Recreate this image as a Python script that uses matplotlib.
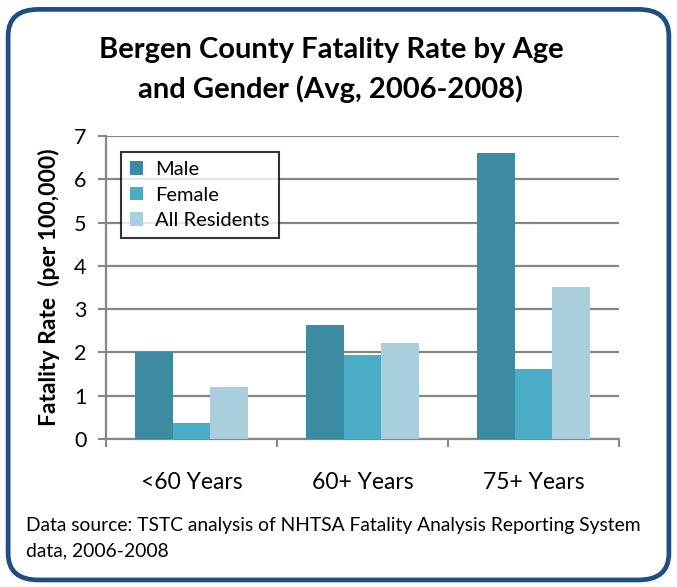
import matplotlib.pyplot as plt
import numpy as np
from matplotlib.patches import FancyBboxPatch

# data
categories = ['<60 Years', '60+ Years', '75+ Years']
male = [2.0, 2.63, 6.6]
female = [0.36, 1.94, 1.62]
all_residents = [1.2, 2.22, 3.51]
series_names = ['Male', 'Female', 'All Residents']
colors = ['#3d8ba3', '#4bacc6', '#a9cedc']

plt.rcParams['font.family'] = ['Lato', 'DejaVu Sans']

fig = plt.figure(figsize=(6.77, 5.87), dpi=100)

# rounded border round the whole chart
border = FancyBboxPatch((0.012, 0.012), 0.976, 0.972,
                        boxstyle='round,pad=0,rounding_size=0.045',
                        transform=fig.transFigure, fill=False,
                        edgecolor='#1f4e82', linewidth=3.4)
fig.patches.append(border)

# plot area in pixels: x 106..619, y 136..439
W, H = 677, 587
ax = fig.add_axes([106 / W, 1 - 439 / H, (619 - 106) / W, (439 - 136) / H])

x = np.arange(len(categories))
bw = 0.222
for i, (vals, name) in enumerate(zip([male, female, all_residents], series_names)):
    ax.bar(x + (i - 1) * bw, vals, width=bw, color=colors[i], label=name, zorder=3)

ax.set_xlim(-0.5, 2.5)
ax.set_ylim(0, 7)
ax.set_yticks(range(8))
ax.yaxis.grid(True, color='#868686', linewidth=1.6, zorder=0)
ax.set_axisbelow(True)

# category boundaries get the x tick marks
ax.set_xticks([-0.5, 0.5, 1.5, 2.5])
ax.set_xticklabels([])
ax.tick_params(axis='x', length=6, width=1.5, color='#868686')
ax.tick_params(axis='y', length=6, width=1.5, color='#868686', labelsize=15.5, pad=8)
for cx, lab in zip(x, categories):
    ax.text(cx, -1.0, lab, ha='center', va='center', fontsize=16.5,
            transform=ax.transData)

for s in ['top', 'right']:
    ax.spines[s].set_visible(False)
for s in ['left', 'bottom']:
    ax.spines[s].set_color('#868686')
    ax.spines[s].set_linewidth(1.6)

ax.set_ylabel('Fatality Rate  (per 100,000)', fontsize=16.5, fontweight='bold', labelpad=10)

leg = ax.legend(loc='upper left', bbox_to_anchor=(0.029, 0.947), borderaxespad=0,
                fontsize=14.5, frameon=True, fancybox=False,
                handlelength=0.65, handleheight=0.65, handletextpad=0.6,
                borderpad=0.45, labelspacing=0.42)
leg.get_frame().set_edgecolor('black')
leg.get_frame().set_linewidth(1.5)

fig.text(331 / W, 1 - 50 / H, 'Bergen County Fatality Rate by Age', ha='center',
         va='center', fontsize=21, fontweight='bold')
fig.text(331 / W, 1 - 89 / H, 'and Gender (Avg, 2006-2008)', ha='center',
         va='center', fontsize=21, fontweight='bold')

fig.text(26 / W, 1 - 525 / H, 'Data source: TSTC analysis of NHTSA Fatality Analysis Reporting System',
         ha='left', va='center', fontsize=13.9)
fig.text(26 / W, 1 - 551 / H, 'data, 2006-2008', ha='left', va='center', fontsize=13.9)

fig.savefig('out.png', dpi=100)
